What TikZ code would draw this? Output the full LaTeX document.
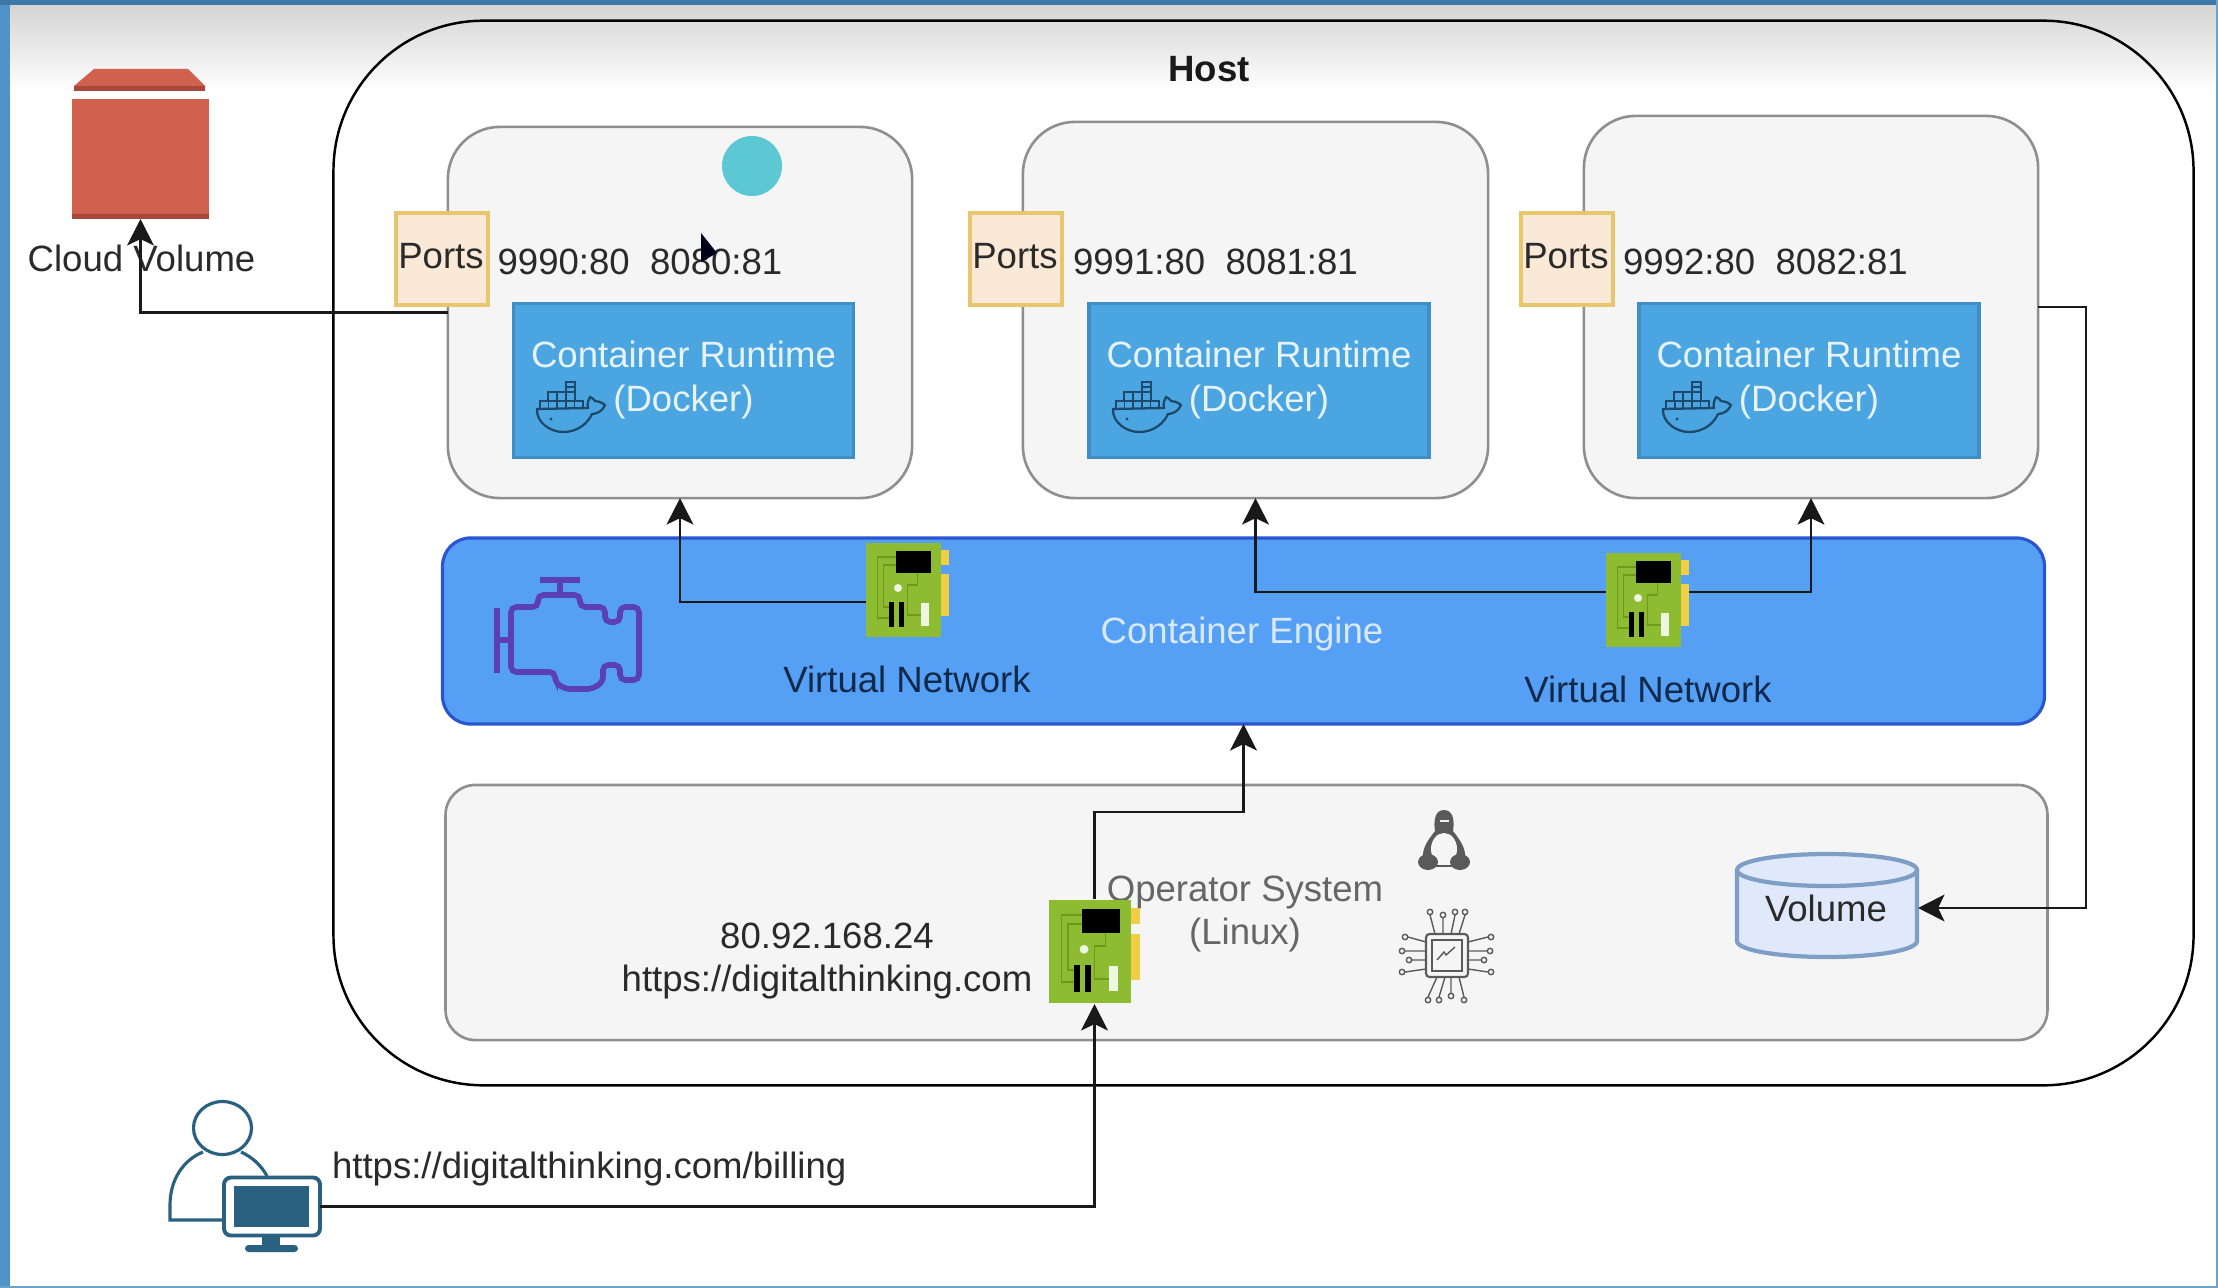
\documentclass[tikz,border=0pt]{standalone}
\usepackage{fontspec}
\setmainfont{Liberation Sans}
\usetikzlibrary{arrows.meta}

\definecolor{barleft}{HTML}{4F93C8}
\definecolor{bartop}{HTML}{3F78A8}
\definecolor{barthin}{HTML}{6AA2C8}
\definecolor{boxgray}{HTML}{F5F5F5}
\definecolor{boxline}{HTML}{8F8F8F}
\definecolor{portfill}{HTML}{FAE9D6}
\definecolor{portline}{HTML}{E8C66E}
\definecolor{runfill}{HTML}{4BA5E0}
\definecolor{runline}{HTML}{3F8EC4}
\definecolor{runtext}{HTML}{E6F3FC}
\definecolor{whaleline}{HTML}{1D4A6C}
\definecolor{enginefill}{HTML}{55A0F5}
\definecolor{engineline}{HTML}{2A55D0}
\definecolor{enginetext}{HTML}{D8E9FB}
\definecolor{netpurple}{HTML}{5A3FB5}
\definecolor{nettext}{HTML}{10284A}
\definecolor{nicgreen}{HTML}{8DBB32}
\definecolor{nictrace}{HTML}{6C9A1C}
\definecolor{nicgold}{HTML}{F0CF45}
\definecolor{cloudred}{HTML}{D0614F}
\definecolor{clouddark}{HTML}{A8473B}
\definecolor{oschip}{HTML}{5A5A5A}
\definecolor{ostext}{HTML}{666666}
\definecolor{volfill}{HTML}{DFE9FA}
\definecolor{volline}{HTML}{7F9EC6}
\definecolor{userblue}{HTML}{2A6080}
\definecolor{dotcyan}{HTML}{5BC8D3}
\definecolor{inktext}{HTML}{2A2A2A}

\tikzset{
  every node/.style={font=\fontsize{10.4}{12.5}\selectfont,text=inktext,inner sep=0pt,outer sep=0pt},
  hostbox/.style={draw=black,line width=0.7pt,rounded corners=1.5cm},
  containerbox/.style={draw=boxline,fill=boxgray,line width=0.75pt,rounded corners=0.52cm},
  portbox/.style={draw=portline,fill=portfill,line width=1pt,minimum width=0.92cm,minimum height=0.92cm},
  runbox/.style={draw=runline,fill=runfill,line width=1pt,minimum width=3.4cm,minimum height=1.54cm,align=center,text=runtext},
  nicbox/.style={minimum width=0.83cm,minimum height=0.94cm},
  wire/.style={draw=black!90,line width=0.8pt,-{Stealth[length=7.5pt,width=7.6pt,inset=1.8pt]}},
  chipline/.style={draw=oschip,line width=0.4pt},
  whale/.pic={
    \draw[whaleline,line width=0.65pt,line join=round]
      (-33,2) .. controls (-34,15) and (-20,25) .. (-7,25)
      .. controls (8,25) and (18,16) .. (22,7)
      .. controls (28,7) and (33,3) .. (35,-2)
      .. controls (31,-5) and (28,-6) .. (25,-6)
      .. controls (24,-8) and (22,-9) .. (20,-10)
      .. controls (18,-6) and (17,-3) .. (18,1) -- cycle;
    \draw[whaleline,line width=0.5pt]
      (-30,2) -- (-30,-6) -- (13,-6) -- (13,2)
      (-21.4,2) -- (-21.4,-6) (-12.8,2) -- (-12.8,-6) (-4.2,2) -- (-4.2,-6) (4.4,2) -- (4.4,-6)
      (-22,-6) -- (-22,-15) -- (5,-15) -- (5,-6)
      (-13,-6) -- (-13,-15) (-4,-6) -- (-4,-15)
      (-4,-15) -- (-4,-25) -- (5,-25) -- (5,-15) (-4,-20) -- (5,-20);
    \fill[whaleline] (-19,12) circle (1.7);
  },
  nic/.pic={
    \fill[nicgold] (33,-40) rectangle (41.5,-25);
    \fill[nicgold] (33,-16) rectangle (41.5,26);
    \fill[nicgreen] (-41.5,-47) rectangle (33.5,47);
    \draw[nictrace,line width=0.5pt]
      (-11,-33) -- (-30,-33) -- (-30,28) -- (-18,28)
      (-11,-25) -- (-24,-25) -- (-24,17) -- (-18,17)
      (10,-17) -- (10,-5) -- (0,-5) -- (0,25) -- (13,25);
    \fill[black] (-11.5,-39) rectangle (23.5,-17);
    \fill[black] (-18.5,12) rectangle (-13.5,37);
    \fill[black] (-8.5,12) rectangle (-3.5,37);
    \fill[white!85!nicgreen] (13.5,13) rectangle (21.5,36);
    \fill[white!85!nicgreen] (-9.5,-2) circle (4);
  }
}

\begin{document}
\begin{tikzpicture}[x=0.01cm,y=-0.01cm]
  \useasboundingbox (0,0) rectangle (2218,1288);

  % screen edge
  \fill[white] (0,0) rectangle (2218,1288);
  \shade[top color=black!17,bottom color=white] (0,4) rectangle (2218,92);
  \fill[barleft] (0,0) rectangle (10,1288);
  \fill[bartop] (0,0) rectangle (2218,5);
  \fill[barthin] (2216,0) rectangle (2218,1288);
  \fill[barthin] (0,1286) rectangle (2218,1288);

  % host
  \node[hostbox,minimum width=18.59cm,minimum height=10.64cm] (host) at (1263.5,553) {};
  \node[font=\fontsize{10.4}{12.5}\selectfont\bfseries,text=black!90] (hosttext) at (1209,69) {Host};

  % containers
  \node[containerbox,minimum width=4.64cm,minimum height=3.71cm] (box1) at (680,312.5) {};
  \node[containerbox,minimum width=4.65cm,minimum height=3.76cm] (box2) at (1255.5,310) {};
  \node[containerbox,minimum width=4.54cm,minimum height=3.82cm] (box3) at (1811,307) {};
  \fill[dotcyan] (752,166) circle (30);

  \node[portbox] (port1) at (442,259) {};
  \node[portbox] (port2) at (1016,259) {};
  \node[portbox] (port3) at (1567,259) {};
  \node (porttext1) at (441,256) {Ports};
  \node (porttext2) at (1015,256) {Ports};
  \node (porttext3) at (1566,256) {Ports};

  \node (map1) at (640,261.5) {9990:80\ \ 8080:81};
  \node (map2) at (1215.5,261.5) {9991:80\ \ 8081:81};
  \node (map3) at (1765.5,261.5) {9992:80\ \ 8082:81};
  \fill[black!90!blue] (701,233) -- (701,262) -- (717,253) -- cycle;

  \node[runbox] (run1) at (683.5,380.5) {Container Runtime\\(Docker)};
  \node[runbox] (run2) at (1259,380.5) {Container Runtime\\(Docker)};
  \node[runbox] (run3) at (1809,380.5) {Container Runtime\\(Docker)};
  \pic at (570,407) {whale};
  \pic at (1146,407) {whale};
  \pic at (1696,407) {whale};

  % container engine
  \node[draw=engineline,fill=enginefill,line width=0.9pt,rounded corners=0.28cm,minimum width=16.01cm,minimum height=1.86cm] (engine) at (1243.5,631) {};
  \node[text=enginetext] (enginetext) at (1242,634) {Container Engine};
  \draw[netpurple,line width=1.6pt,rounded corners=1.5pt]
    (511,607) -- (538,607) -- (538,595) -- (580,595) -- (580,607) -- (605,607) -- (605,622) -- (620,622)
    -- (620,607) -- (639,607) -- (639,680) -- (620,680) -- (620,665) -- (603,665) -- (603,682) -- (592,689)
    -- (565,689) -- (555,682) -- (555,672) -- (511,672) -- cycle;
  \draw[netpurple,line width=1.6pt] (560,595) -- (560,580) (540,580) -- (580,580);
  \draw[netpurple,line width=1.6pt] (497,608) -- (497,673) (497,640) -- (511,640);

  \node[nicbox] (nic1) at (907.5,590) {};
  \node[nicbox] (nic2) at (1647.5,600) {};
  \pic at (nic1) {nic};
  \pic at (nic2) {nic};
  \node[text=nettext] (nettext1) at (907,679) {Virtual Network};
  \node[text=nettext] (nettext2) at (1648,689) {Virtual Network};

  % operating system
  \node[containerbox,rounded corners=0.3cm,minimum width=16.01cm,minimum height=2.55cm] (os) at (1246.5,912.5) {};
  \node[align=center,text=ostext] (ostext) at (1245,914) {Operator System\\(Linux)};
  \node[align=center] (addr) at (827,961) {80.92.168.24\\https://digitalthinking.com};
  \node[nicbox,minimum width=0.91cm,minimum height=1.05cm] (nic3) at (1094.5,951.5) {};
  \pic[scale=1.1] at (nic3) {nic};

  % penguin
  \fill[oschip] (1444,810) .. controls (1433,810) and (1434,825) .. (1435,831)
    .. controls (1428,840) and (1422,848) .. (1423,858) -- (1465,858)
    .. controls (1466,848) and (1460,840) .. (1453,831)
    .. controls (1454,825) and (1455,810) .. (1444,810) -- cycle;
  \fill[boxgray] (1444,849) ellipse [x radius=13,y radius=16];
  \fill[boxgray] (1440,820) rectangle (1449,822);
  \fill[oschip] (1428,862) ellipse [x radius=10,y radius=8];
  \fill[oschip] (1460,862) ellipse [x radius=10,y radius=8];
  \draw[oschip,line width=0.4pt] (1428,866) -- (1460,866);

  % chip
  \draw[chipline,line width=0.6pt,rounded corners=1pt] (1426,934) rectangle (1468,977);
  \draw[chipline] (1432,940) rectangle (1462,971);
  \draw[chipline] (1437,960) -- (1444,952) -- (1446,955) -- (1455,947);
  \draw[chipline]
    (1435,934) -- (1430,915) (1443,934) -- (1443,918) (1451,934) -- (1455,915) (1459,934) -- (1465,915)
    (1468,942) -- (1488,937) (1468,951) -- (1487,951) (1468,960) -- (1481,960) (1468,969) -- (1488,972)
    (1426,942) -- (1408,937) (1426,951) -- (1405,951) (1426,960) -- (1412,960) (1426,969) -- (1405,972)
    (1437,977) -- (1428,997) (1445,977) -- (1439,997) (1451,977) -- (1451,993) (1459,977) -- (1464,997);
  \draw[chipline]
    (1430,912) circle (2.7) (1443,915) circle (2.7) (1455,912) circle (2.7) (1465,912) circle (2.7)
    (1491,937) circle (2.7) (1490,951) circle (2.7) (1484,960) circle (2.7) (1491,972) circle (2.7)
    (1405,937) circle (2.7) (1402,951) circle (2.7) (1409,960) circle (2.7) (1402,972) circle (2.7)
    (1428,1000) circle (2.7) (1439,1000) circle (2.7) (1451,996) circle (2.7) (1464,1000) circle (2.7);

  % volume
  \draw[volline,fill=volfill,line width=1.2pt] (1737,870) .. controls (1737,861) and (1777,854) .. (1827,854)
    .. controls (1877,854) and (1917,861) .. (1917,870) -- (1917,941)
    .. controls (1917,950) and (1877,957) .. (1827,957)
    .. controls (1777,957) and (1737,950) .. (1737,941) -- cycle;
  \draw[volline,line width=1.2pt] (1737,870) .. controls (1737,879) and (1777,886) .. (1827,886)
    .. controls (1877,886) and (1917,879) .. (1917,870);
  \node[minimum width=1.82cm,minimum height=0.98cm] (vol) at (1827,908) {};
  \node (voltext) at (1826,908) {Volume};

  % cloud volume
  \fill[cloudred] (94,69) -- (188,69) -- (205,86) -- (205,91) -- (74,91) -- (74,86) -- cycle;
  \fill[clouddark] (74,86) rectangle (205,91);
  \node[fill=cloudred,minimum width=1.37cm,minimum height=1.2cm] (cloudvol) at (140.5,159) {};
  \fill[clouddark] (72,214) rectangle (209,219);
  \node (cloudtext) at (141.5,258) {Cloud Volume};

  % user
  \draw[userblue,line width=0.9pt] (222.5,1128) ellipse [x radius=29,y radius=26.5];
  \draw[userblue,line width=0.9pt] (223,1220) -- (170,1220) -- (170,1205)
    .. controls (170,1180) and (183,1160) .. (203,1152);
  \draw[userblue,line width=0.9pt] (241,1152) .. controls (252,1157) and (261,1165) .. (267,1176);
  \node[draw=userblue,fill=white,line width=1.1pt,rounded corners=0.07cm,minimum width=0.96cm,minimum height=0.58cm] (pc) at (272,1206.5) {};
  \fill[userblue] (234,1186) rectangle (309,1227);
  \fill[userblue] (262,1236) rectangle (280,1246);
  \fill[userblue,rounded corners=1pt] (245,1245) rectangle (298,1252);
  \node[anchor=west] (urltext) at (332,1169) {https://digitalthinking.com/billing};

  % connections
  \draw[wire] (box1.west) -| (cloudvol.south);
  \draw[wire] ([yshift=-0.12cm]nic1.west) -| (box1.south);
  \draw[wire] ([yshift=0.08cm]nic2.west) -| (box2.south);
  \draw[wire] ([yshift=0.08cm]nic2.east) -| (box3.south);
  \draw[wire] (box3.east) -- (2086,307) |- (vol.east);
  \coordinate (osbend) at (1243.5,812);
  \draw[wire] (nic3.north) |- (osbend) -- (engine.south);
  \draw[wire] (pc.east) -| (nic3.south);
\end{tikzpicture}
\end{document}
